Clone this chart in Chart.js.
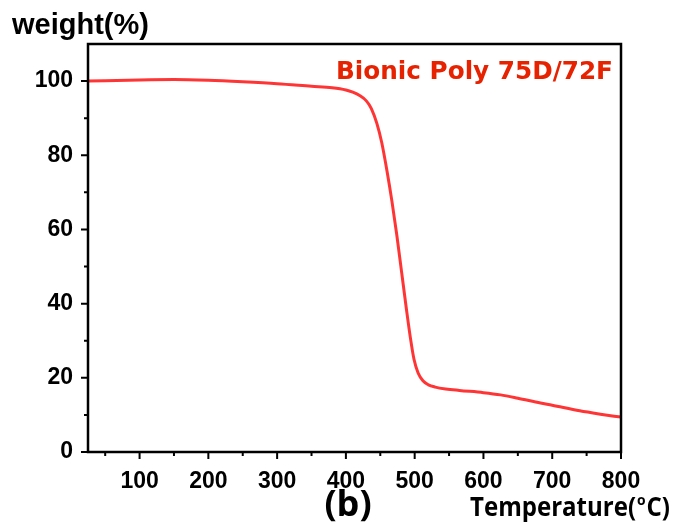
<!DOCTYPE html>
<html>
<head>
<meta charset="utf-8">
<script src="https://cdn.jsdelivr.net/npm/chart.js@4"></script>
<style>
  html, body { margin: 0; padding: 0; background: #fff; }
  canvas { display: block; }
</style>
</head>
<body>
<canvas id="chart" width="673" height="523"></canvas>
<script>
// TGA curve
const temps = [25, 100, 150, 200, 250, 300, 350, 380, 400, 410, 420, 430, 437, 445, 452, 460, 467, 474, 481, 488, 494, 499, 505, 512, 520, 530, 545, 565, 600, 625, 650, 683, 700, 740, 770, 800];
const weights = [100, 100.3, 100.4, 100.2, 99.8, 99.3, 98.6, 98.2, 97.6, 97.0, 96.1, 94.6, 92.6, 88.6, 83.5, 75.5, 67.5, 58.5, 48.5, 38.5, 30.5, 25.0, 21.3, 19.2, 18.1, 17.5, 17.0, 16.6, 16.0, 15.4, 14.5, 13.2, 12.6, 11.1, 10.2, 9.4];
const xTicks = [100, 200, 300, 400, 500, 600, 700, 800];
const xMinor = [50, 150, 250, 350, 450, 550, 650, 750];
const yTicks = [0, 20, 40, 60, 80, 100];
const yMinor = [10, 30, 50, 70, 90];
const seriesName = "Bionic Poly 75D/72F";

const FONT = "'Liberation Sans', Arial, sans-serif";

const framePlugin = {
  id: "frame",
  afterDraw(chart) {
    const { ctx, chartArea: a, scales } = chart;
    ctx.save();
    ctx.strokeStyle = "#000";
    ctx.lineWidth = 2.5;
    ctx.strokeRect(a.left, a.top, a.right - a.left, a.bottom - a.top);

    // outward ticks
    ctx.lineWidth = 2;
    ctx.beginPath();
    xTicks.forEach(v => { const x = scales.x.getPixelForValue(v); ctx.moveTo(x, a.bottom); ctx.lineTo(x, a.bottom + 7); });
    xMinor.forEach(v => { const x = scales.x.getPixelForValue(v); ctx.moveTo(x, a.bottom); ctx.lineTo(x, a.bottom + 4); });
    yTicks.forEach(v => { const y = scales.y.getPixelForValue(v); ctx.moveTo(a.left, y); ctx.lineTo(a.left - 7, y); });
    yMinor.forEach(v => { const y = scales.y.getPixelForValue(v); ctx.moveTo(a.left, y); ctx.lineTo(a.left - 4, y); });
    ctx.stroke();

    // texts
    ctx.fillStyle = "#e62200";
    ctx.font = "bold 25px 'DejaVu Sans', sans-serif";
    ctx.textAlign = "left";
    ctx.textBaseline = "alphabetic";
    ctx.fillText(seriesName, 336, 79, 277);

    ctx.fillStyle = "#000";
    ctx.font = "bold 29px " + FONT;
    ctx.fillText("weight(%)", 12, 34, 141);

    ctx.font = "bold 36px 'Open Sans', sans-serif";
    ctx.textAlign = "center";
    ctx.fillText("(b)", 348, 516);

    ctx.textAlign = "left";
    const big = "bold 26px 'Open Sans', sans-serif";
    const small = "bold 15px 'Open Sans', sans-serif";
    ctx.font = big;
    const w1 = ctx.measureText("Temperature(").width;
    const w3 = ctx.measureText("C)").width;
    ctx.font = small;
    const w2 = ctx.measureText("o").width;
    const k = Math.min(1, 200 / (w1 + w2 + w3 + 2));
    ctx.translate(470, 516);
    ctx.scale(k, 1);
    ctx.font = big;
    ctx.fillText("Temperature(", 0, 0);
    ctx.font = small;
    ctx.fillText("o", w1 + 1, -11);
    ctx.font = big;
    ctx.fillText("C)", w1 + w2 + 2, 0);
    ctx.restore();
  }
};

new Chart(document.getElementById("chart"), {
  type: "line",
  data: {
    datasets: [{
      label: seriesName,
      data: temps.map((t, i) => ({ x: t, y: weights[i] })),
      borderColor: "#ff3535",
      borderWidth: 3,
      pointRadius: 0,
      cubicInterpolationMode: "monotone",
      fill: false
    }]
  },
  options: {
    responsive: false,
    animation: false,
    layout: { padding: { left: 0, top: 44, right: 52, bottom: 0 } },
    plugins: { legend: { display: false }, tooltip: { enabled: false } },
    scales: {
      x: {
        type: "linear",
        min: 25,
        max: 800,
        afterBuildTicks: s => { s.ticks = xTicks.map(v => ({ value: v })); },
        afterFit: s => { s.height = 71; },
        grid: { display: false, drawTicks: false },
        border: { display: false },
        ticks: { padding: 16, color: "#000", font: { family: FONT, size: 23, weight: "bold" }, maxRotation: 0 }
      },
      y: {
        min: 0,
        max: 110,
        afterBuildTicks: s => { s.ticks = yTicks.map(v => ({ value: v })); },
        afterFit: s => { s.width = 88; },
        grid: { display: false, drawTicks: false },
        border: { display: false },
        ticks: { padding: 15, color: "#000", font: { family: FONT, size: 23, weight: "bold" } }
      }
    }
  },
  plugins: [framePlugin]
});
</script>
</body>
</html>
